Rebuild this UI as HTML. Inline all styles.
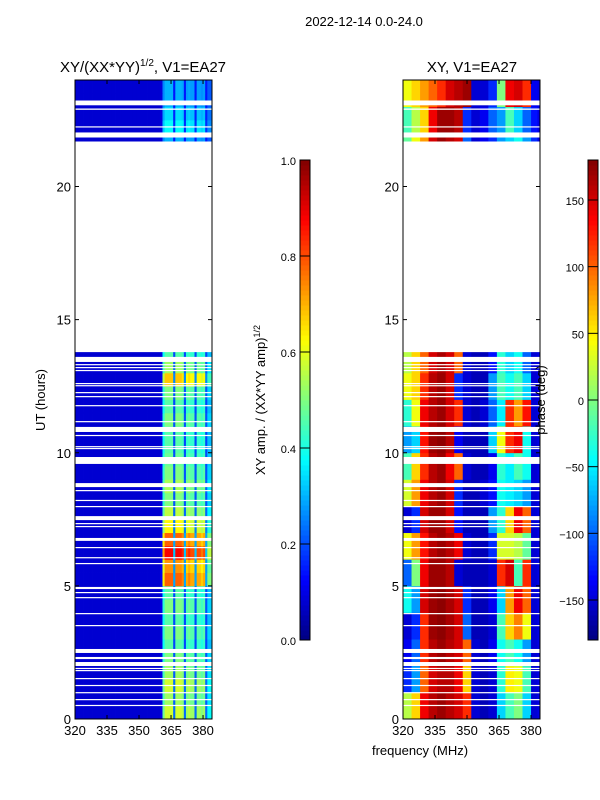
<!DOCTYPE html>
<html><head><meta charset="utf-8"><style>
html,body{margin:0;padding:0;background:#fff;}
svg{display:block;font-family:"Liberation Sans",sans-serif;}
</style></head><body>
<svg id="fig" width="600" height="800" viewBox="0 0 600 800" xmlns="http://www.w3.org/2000/svg">
<g id="g1"></g>
<g id="g2"></g>
<g id="axes"></g>
<text x="364" y="26" font-size="13" text-anchor="middle">2022-12-14 0.0-24.0</text>
<text x="143" y="72" font-size="15" text-anchor="middle">XY/(XX*YY)<tspan font-size="10" dy="-6">1/2</tspan><tspan dy="6">, V1=EA27</tspan></text>
<text x="472" y="72" font-size="15" text-anchor="middle">XY, V1=EA27</text>
<text transform="translate(45,400) rotate(-90)" font-size="13" text-anchor="middle">UT (hours)</text>
<text transform="translate(265,400) rotate(-90)" font-size="13" text-anchor="middle">XY amp. / (XX*YY amp)<tspan font-size="9" dy="-5">1/2</tspan></text>
<text transform="translate(545,400) rotate(-90)" font-size="13" text-anchor="middle">phase (deg)</text>
<text x="420" y="755" font-size="13" text-anchor="middle">frequency (MHz)</text>
</svg>
<script>
// ---- data ----
const freqStartMHz = 320, freqEndMHz = 384.2, hourMin = 0, hourMax = 24;
const xTicks = [320, 335, 350, 365, 380];
const yTicks = [0, 5, 10, 15, 20];
const ampTicks = [0.0, 0.2, 0.4, 0.6, 0.8, 1.0];
const phaseTicks = [-150, -100, -50, 0, 50, 100, 150];
// amplitude of high band per half hour (index*0.5 h)
const ampRowLevel = [0.5,0.45,0.5,0.45,0.42,0.38,0.42,0.38,0.42,0.38,0.7,0.65,0.8,0.7,0.55,0.48,0.42,0.46,0.42,0.4,
  0.38,0.38,0.42,0.38,0.42,0.6,0.45,0.38,0,0,0,0,0,0,0,0,0,0,0,0,0,0,0,0.22,0.3,0.26,0.22,0.22];
// per-MHz channel gain (320..383)
const ampColGain = [0,0,0,0,0,0,0,0,0,0,0,0,0,0,0,0,0,0,0,0,0,0,0,0,0,0,0,0,0,0,0,0,0,0,0,0,0,0,0,0,0.05,
  0.8,1,1,1,1,0.3,1,1,1,0.95,0.3,0.9,0.95,0.9,0.9,0.3,0.9,0.9,0.85,0.9,0.3,0.6,0.6];
const ampBase = 0.08;
// phase per hour (rows) x 4-MHz groups (320..380)
const phaseRows = [
 [20,60,140,160,170,160,150,120,-150,-160,-150,-60,-20,0,-60,-150],
 [-120,-80,100,150,160,160,140,60,-150,-160,-150,-30,50,40,-20,-150],
 [-140,-100,120,160,170,160,150,100,-150,-160,-140,-40,-20,-40,-80,-150],
 [-150,-120,120,170,175,165,150,-100,-160,-160,-150,-20,60,90,40,-150],
 [-40,-80,150,170,175,165,150,-120,-160,-160,-140,-60,80,140,100,-150],
 [-100,0,140,170,170,160,-150,-160,-160,-160,-150,120,150,-20,120,-150],
 [40,80,130,160,170,160,140,-150,-160,-160,-120,30,30,20,-10,-150],
 [-150,-120,150,170,170,150,-130,-160,-160,-160,-80,-30,60,140,100,-150],
 [30,80,140,160,170,150,-120,-160,-160,-150,-130,-40,-50,-60,-80,-150],
 [-20,60,120,160,170,140,100,-150,-160,-160,-140,-30,-50,-20,-40,-150],
 [-80,-60,130,170,175,160,-140,-160,-160,-160,-60,40,120,140,-40,-150],
 [-30,40,140,160,170,150,120,-150,-160,-150,-100,-50,120,80,130,-150],
 [40,60,120,160,170,150,-120,-150,-160,-160,-80,-20,-40,-20,-60,-150],
 [20,60,100,150,165,150,100,-150,-160,-160,-130,-30,-60,-40,-100,-150],
 null,null,null,null,null,null,null,
 [-10,40,80,150,170,160,150,-100,-150,-140,-120,-80,-60,-40,-80,-120],
 [-20,20,60,140,170,170,160,-120,-150,-140,-100,-80,-20,-60,-100,-130],
 [40,60,80,100,120,150,160,170,-150,-150,-120,0,140,150,120,-140]
];
// time ranges (hours) with no data
const gapStart = [13.78,21.84,22.22,22.88,23.05,13.41,13.30,13.18,13.07,12.58,12.51,12.24,12.09,11.76,11.16,10.78,10.63,10.22,10.14,9.58,8.71,8.56,8.19,7.96,7.47,7.32,7.21,6.69,6.42,6.05,5.82,4.88,4.73,4.54,3.94,3.49,2.48,2.25,1.99,1.88,1.80,1.50,1.24,0.98,0.71,0.49];
const gapEnd   = [21.69,22.03,22.26,22.93,23.23,13.60,13.33,13.22,13.11,12.62,12.54,12.28,12.13,11.79,11.19,10.97,10.67,10.25,10.18,9.84,8.86,8.60,8.23,8.00,7.62,7.36,7.25,6.80,6.46,6.08,5.86,4.96,4.77,4.58,3.98,3.53,2.63,2.33,2.14,1.92,1.84,1.54,1.28,1.01,0.75,0.53];

// ---- helpers ----
const NS = "http://www.w3.org/2000/svg";
function jet(v){v=Math.max(0,Math.min(1,v));
  const r=Math.max(0,Math.min(1,1.5-Math.abs(4*v-3))),g=Math.max(0,Math.min(1,1.5-Math.abs(4*v-2))),b=Math.max(0,Math.min(1,1.5-Math.abs(4*v-1)));
  return `rgb(${Math.round(r*255)},${Math.round(g*255)},${Math.round(b*255)})`;}
function mk(tag,attrs,parent){const e=document.createElementNS(NS,tag);for(const k in attrs)e.setAttribute(k,attrs[k]);parent.appendChild(e);return e;}
const Y0=719, Y1=80;
function yS(h){return Y0-(h-hourMin)/(hourMax-hourMin)*(Y0-Y1);}
function xS(left,f){return left+(f-freqStartMHz)/(freqEndMHz-freqStartMHz)*137;}
const panels=[75,403];

// amp heatmap
const g1=document.getElementById('g1');
for(let r=0;r<ampRowLevel.length;r++){
  for(let c=0;c<ampColGain.length;c++){
    const v=ampBase+ampColGain[c]*ampRowLevel[r];
    const x0=xS(75,freqStartMHz+c),x1=xS(75,freqStartMHz+c+1);
    const rc=mk('rect',{x:x0,y:yS((r+1)*0.5),width:x1-x0+0.4,height:yS(r*0.5)-yS((r+1)*0.5)+0.4,fill:jet(v)},g1);
    
    
  }
}
// phase heatmap
const g2=document.getElementById('g2');
for(let r=0;r<phaseRows.length;r++){
  const row=phaseRows[r]; if(!row) continue;
  for(let c=0;c<row.length;c++){
    const x0=xS(403,freqStartMHz+4*c),x1=Math.min(540,xS(403,freqStartMHz+4*c+4));
    const rc=mk('rect',{x:x0,y:yS(r+1),width:x1-x0+0.4,height:yS(r)-yS(r+1)+0.4,fill:jet((row[c]+180)/360)},g2);
    
    
  }
  const ex=mk('rect',{x:xS(403,383),y:yS(r+1),width:540-xS(403,383),height:yS(r)-yS(r+1)+0.4,fill:jet(0.1)},g2);
  
  
}
// gaps
const ax=document.getElementById('axes');
for(const L of panels){
  for(let i=0;i<gapStart.length;i++){
    const gp=mk('rect',{x:L,y:yS(gapEnd[i]),width:137,height:Math.max(1.2,yS(gapStart[i])-yS(gapEnd[i])),fill:'#fff'},ax);
    
    
  }
  const fr=mk('rect',{x:L,y:Y1,width:137,height:Y0-Y1,fill:'none',stroke:'#000','stroke-width':1},ax);
  
  
  for(const t of xTicks){const x=xS(L,t);
    mk('line',{x1:x,y1:Y0,x2:x,y2:Y0-4,stroke:'#000'},ax);
    mk('line',{x1:x,y1:Y1,x2:x,y2:Y1+4,stroke:'#000'},ax);
    const tx=mk('text',{x:x,y:Y0+16,'font-size':13,'text-anchor':'middle'},ax);tx.textContent=t;
    
    }
  for(const t of yTicks){const y=yS(t);
    mk('line',{x1:L,y1:y,x2:L+4,y2:y,stroke:'#000'},ax);
    mk('line',{x1:L+137,y1:y,x2:L+133,y2:y,stroke:'#000'},ax);
    const ty=mk('text',{x:L-4,y:y+5,'font-size':13,'text-anchor':'end'},ax);ty.textContent=t;
    
    }
}
// colorbars
function colorbar(x,vmin,vmax,ticks,name){
  const cg=mk('g',{},ax);
  
  
  const top=160,bot=640,n=96;
  for(let i=0;i<n;i++){mk('rect',{x:x,y:bot-(i+1)*(bot-top)/n,width:10,height:(bot-top)/n+0.5,fill:jet((i+0.5)/n)},cg);}
  mk('rect',{x:x,y:top,width:10,height:bot-top,fill:'none',stroke:'#000'},cg);
  for(const t of ticks){const y=bot-(t-vmin)/(vmax-vmin)*(bot-top);
    mk('line',{x1:x,y1:y,x2:x+10,y2:y,stroke:'#000'},cg);
    const tl=mk('text',{x:x-4,y:y+5,'font-size':11,'text-anchor':'end'},cg);
    tl.textContent=(name==='amp-colorbar'?t.toFixed(1):(t<0?'\u2212'+(-t):t));
    
    }
}
colorbar(300,0,1,ampTicks,'amp-colorbar');
colorbar(588,-180,180,phaseTicks,'phase-colorbar');
</script>
</body></html>
